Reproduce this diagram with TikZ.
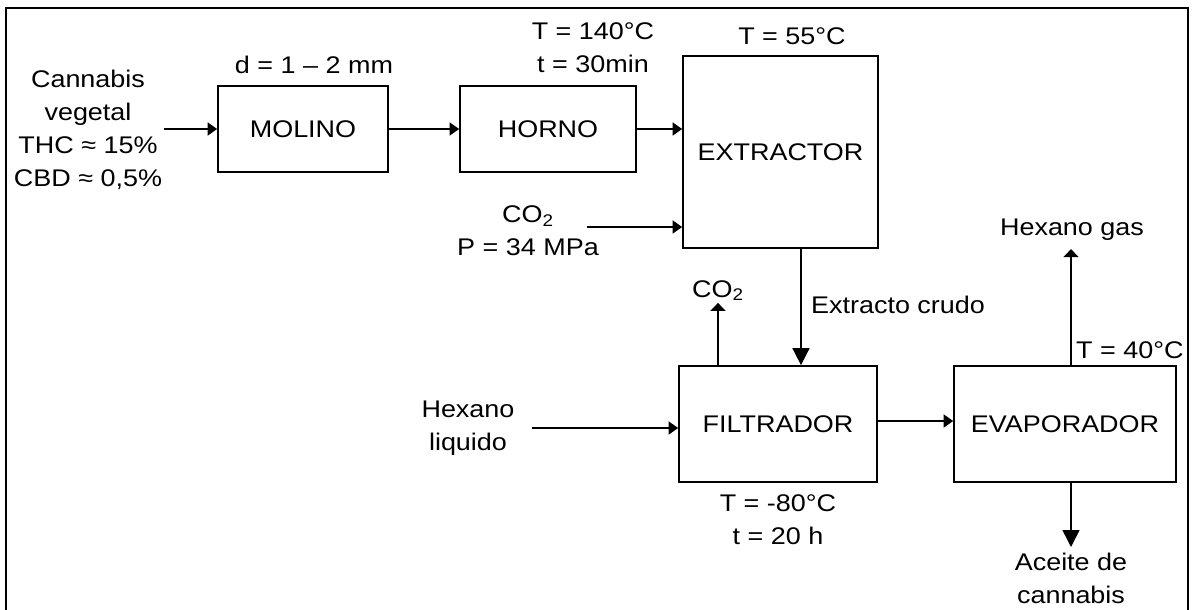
\documentclass[tikz,border=0pt]{standalone}
\usepackage{fontspec}
\setmainfont{Liberation Sans}[FakeStretch=1.12]
\usetikzlibrary{arrows.meta, positioning}

\begin{document}
\begin{tikzpicture}[
        x=0.02cm, y=-0.02cm,
        font=\fontsize{13.7}{18.8}\selectfont,
        unit/.style={rectangle, draw, line width=1pt, minimum height=1.72cm, inner sep=0pt},
        arrow/.style={-{Triangle[length=1.9mm, width=2.6mm]}, line width=0.9pt},
        uparrow/.style={-{Triangle[length=1.6mm, width=3mm]}, line width=0.9pt},
        bigarrow/.style={-{Triangle[length=3.4mm, width=3.4mm]}, line width=0.9pt},
        lbl/.style={align=center, inner sep=1pt}
    ]
    \useasboundingbox (0,0) rectangle (1193,609);
    % outer frame (open at the bottom)
    \draw[line width=1.5pt] (6,620) -- (6,8) -- (1188,8) -- (1188,620);

    % Process units
    \node[unit, minimum width=3.4cm] (molino) at (303,129) {MOLINO};
    \node[unit, minimum width=3.52cm] (horno) at (548,129) {HORNO};
    \node[unit, minimum width=3.9cm, minimum height=3.84cm] (extractor) at (780.5,152) {EXTRACTOR};
    \node[unit, minimum width=3.96cm, minimum height=2.32cm] (filtrador) at (778,424) {FILTRADOR};
    \node[unit, minimum width=4.44cm, minimum height=2.32cm] (evaporador) at (1065,424) {EVAPORADOR};

    % Streams and conditions
    \node[lbl] (cannabis) at (88,130) {Cannabis\\vegetal\\THC ≈ 15\%\\CBD ≈ 0,5\%};
    \node[lbl, anchor=base] (dmol) at (314,73) {d = 1 – 2 mm};
    \node[lbl] (condhorno) at (593,48) {T = 140°C\\t = 30min};
    \node[lbl, anchor=base] (condext) at (792,44) {T = 55°C};
    \node[lbl] (co2in) at (528,231) {CO\textsubscript{2}\\P = 34 MPa};
    \coordinate (co2src) at (587,227);
    \node[lbl, anchor=base] (co2out) at (718,297) {CO\textsubscript{2}};
    \node[lbl, anchor=base west] (crudo) at (809,313) {Extracto crudo};
    \node[lbl] (hexliq) at (468,428) {Hexano\\liquido};
    \node[lbl] (condfil) at (778,520) {T = -80°C\\t = 20 h};
    \node[lbl, anchor=base] (hexgas) at (1072,235) {Hexano gas};
    \node[lbl, anchor=base west] (condevap) at (1074,358) {T = 40°C};
    \node[lbl, anchor=north] (aceite) at (1071,551) {Aceite de\\cannabis};

    % Main line
    \draw[arrow] (cannabis.east |- molino) -- (molino);
    \draw[arrow] (molino) -- (horno);
    \draw[arrow] (horno) -- (horno -| extractor.west);
    \draw[arrow] (co2src) -- (co2src -| extractor.west);
    \draw[bigarrow] ([xshift=0.41cm]extractor.south) -- ([xshift=0.41cm]extractor.south |- filtrador.north);
    \draw[uparrow] ([xshift=-1.2cm]filtrador.north) -- ([xshift=-1.2cm]filtrador.north |- co2out.south);
    \draw[arrow] ([xshift=0.3cm]hexliq.east) -- (hexliq.east -| filtrador.west);
    \draw[arrow] ([yshift=0.06cm]filtrador.east) -- ([yshift=0.06cm]evaporador.west);

    % Evaporador outlets
    \draw[uparrow] ([xshift=0.12cm]evaporador.north) -- ([xshift=0.12cm, yshift=-0.14cm]evaporador.north |- hexgas.south);
    \draw[bigarrow] ([xshift=0.12cm]evaporador.south) -- ([xshift=0.12cm, yshift=0.08cm]evaporador.south |- aceite.north);
\end{tikzpicture}
\end{document}
